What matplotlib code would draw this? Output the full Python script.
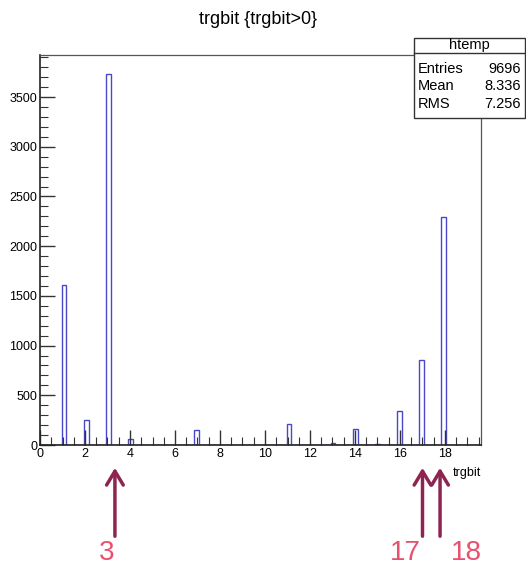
import numpy as np
import matplotlib.pyplot as plt
from matplotlib.transforms import blended_transform_factory
from matplotlib.patches import Rectangle
from matplotlib.lines import Line2D

plt.rcParams['font.family'] = ['Liberation Sans Narrow', 'Liberation Sans', 'DejaVu Sans']

# --- datos: valores de trgbit y cuentas por bit ---
bits = [1, 2, 3, 4, 7, 11, 13, 14, 15, 16, 17, 18]
cuentas = [1610, 255, 3730, 65, 150, 210, 18, 160, 8, 345, 855, 2290]

# estadisticas del cuadro
stats_nombres = ["Entries", "Mean", "RMS"]
stats_valores = ["9696", "8.336", "7.256"]

# flechas marcadas debajo del eje
flechas_x = [3.33, 17.0, 17.78]
etiquetas = ["3", "17", "18"]
etiquetas_x = [2.96, 16.22, 18.93]

# 100 bins entre 0 y 19.6 (como el htemp de ROOT)
bordes = np.linspace(0, 19.6, 101)
hist, _ = np.histogram(bits, bins=bordes, weights=cuentas)

fig = plt.figure(figsize=(5.26, 5.72), dpi=100)
ax = fig.add_axes([40/526, 1-445/572, 441/526, 390/572])

ax.stairs(hist, bordes, color='#4848c8', lw=1.0)
ax.set_xlim(0, 19.6)
ax.set_ylim(0, 3923)

ax.set_xticks(np.arange(0, 19, 2))
ax.set_xticks(np.arange(0, 19.6, 0.5), minor=True)
ax.set_yticks(np.arange(0, 3501, 500))
ax.set_yticks(np.arange(0, 3901, 100), minor=True)
ax.tick_params(which='major', direction='in', length=11, width=1.0, color='#333333',
               labelsize=9, pad=2)
ax.tick_params(which='minor', direction='in', length=5.5, width=0.8, color='#333333')
for s in ['left', 'bottom']:
    ax.spines[s].set_color('#222222')
    ax.spines[s].set_linewidth(1.2)
for s in ['top', 'right']:
    ax.spines[s].set_color('#555555')
    ax.spines[s].set_linewidth(0.9)

fig.text(258/526, 1-20/572, "trgbit {trgbit>0}", ha='center', va='center', fontsize=13)
fig.text(481/526, 1-473/572, "trgbit", ha='right', va='center', fontsize=9)

# --- cuadro de estadisticas ---
x0, x1 = 414/526, 525/526
y0, y1 = 1-118/572, 1-38/572
fig.patches.append(Rectangle((x0, y0), x1-x0, y1-y0, transform=fig.transFigure,
                             facecolor='white', edgecolor='#333333', lw=1.0, zorder=5))
fig.lines.append(Line2D([x0, x1], [1-53/572, 1-53/572], transform=fig.transFigure,
                        color='#333333', lw=1.0, zorder=6))
fig.text((x0+x1)/2, 1-45.5/572, "htemp", ha='center', va='center', fontsize=10.5, zorder=7)
for i, (n, v) in enumerate(zip(stats_nombres, stats_valores)):
    y = 1-(69 + 17.5*i)/572
    fig.text(x0 + 4/526, y, n, ha='left', va='center', fontsize=10.5, zorder=7)
    fig.text(x1 - 4/526, y, v, ha='right', va='center', fontsize=10.5, zorder=7)

# --- flechas y numeros ---
trans = blended_transform_factory(ax.transData, fig.transFigure)
for xf in flechas_x:
    ax.annotate("", xy=(xf, 1-465/572), xytext=(xf, 1-539/572),
                xycoords=trans, textcoords=trans, annotation_clip=False,
                arrowprops=dict(arrowstyle='->,head_length=1.0,head_width=0.6',
                                color='#8e2450', lw=2.5))
for xe, t in zip(etiquetas_x, etiquetas):
    ax.text(xe, 1-553/572, t, transform=trans, ha='center', va='center',
            fontsize=20, color='#e8506e', family=['Liberation Sans', 'DejaVu Sans'])

fig.savefig("out.png", dpi=100)
